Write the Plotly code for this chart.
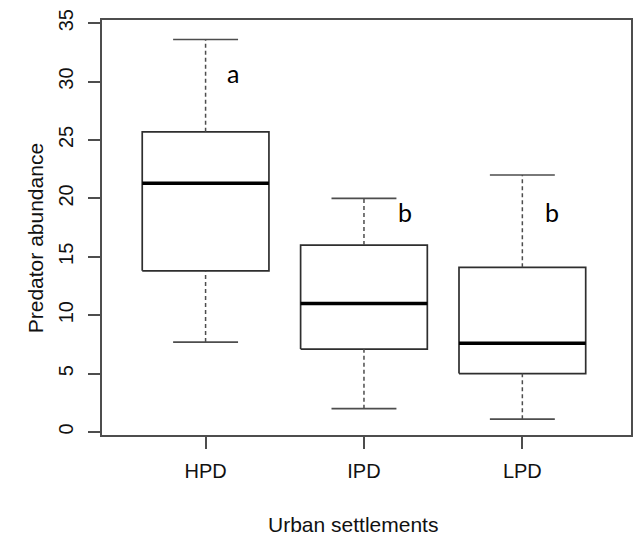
import plotly.graph_objects as go

# ---- data ----
categories = ["HPD", "IPD", "LPD"]
lower_whisker = [7.7, 2.0, 1.1]
q1 = [13.8, 7.1, 5.0]
median = [21.3, 11.0, 7.6]
q3 = [25.7, 16.0, 14.1]
upper_whisker = [33.6, 20.0, 22.0]
letters = ["a", "b", "b"]
y_ticks = [0, 5, 10, 15, 20, 25, 30, 35]

# ---- layout / style settings ----
W, H = 633, 536
ML, MR, MT, MB = 102, 0, 20, 101
half_box = 0.40
half_cap = 0.205
letter_dx = [0.175, 0.26, 0.19]
letter_y = [30.7, 18.8, 18.8]
axis_col = "#4d4d4d"
box_col = "#2e2e2e"
tick_font = dict(family="Liberation Sans, Arial, sans-serif", size=20, color="#111111")

fig = go.Figure()
for i, cat in enumerate(categories):
    # box
    fig.add_trace(go.Scatter(
        x=[i - half_box, i + half_box, i + half_box, i - half_box, i - half_box],
        y=[q1[i], q1[i], q3[i], q3[i], q1[i]],
        mode="lines", line=dict(color=box_col, width=1.7),
        name=cat, showlegend=False, hoverinfo="skip"))
    # whiskers (dashed)
    for a, b in ((q3[i], upper_whisker[i]), (lower_whisker[i], q1[i])):
        fig.add_trace(go.Scatter(
            x=[i, i], y=[a, b], mode="lines",
            line=dict(color=axis_col, width=1.5, dash="4px,3px"),
            showlegend=False, hoverinfo="skip"))
    # caps
    for v in (upper_whisker[i], lower_whisker[i]):
        fig.add_trace(go.Scatter(
            x=[i - half_cap, i + half_cap], y=[v, v], mode="lines",
            line=dict(color=axis_col, width=1.7),
            showlegend=False, hoverinfo="skip"))
    # median
    fig.add_trace(go.Scatter(
        x=[i - half_box, i + half_box], y=[median[i], median[i]], mode="lines",
        line=dict(color="#000000", width=3.6),
        showlegend=False, hovertemplate=f"{cat}<br>median %{{y}}<extra></extra>"))
    # significance letter
    fig.add_annotation(x=i + letter_dx[i], y=letter_y[i], text=letters[i],
                       showarrow=False, xref="x", yref="y",
                       font=dict(family="Lato, Carlito, sans-serif", size=25, color="#000000"))

# axis titles as annotations (pixel-matched)
pw, ph = W - ML - MR, H - MT - MB
fig.add_annotation(text="Urban settlements", xref="paper", yref="paper",
                   x=(353.5 - ML) / pw, y=(H - MB - 524) / ph, showarrow=False,
                   xanchor="center", yanchor="middle",
                   font=dict(family="Liberation Sans, Arial, sans-serif", size=21, color="#111111"))
fig.add_annotation(text="Predator abundance", xref="paper", yref="paper",
                   x=(35 - ML) / pw, y=(H - MB - 238) / ph, showarrow=False, textangle=-90,
                   xanchor="center", yanchor="middle",
                   font=dict(family="Liberation Sans, Arial, sans-serif", size=21, color="#111111"))

fig.update_layout(
    width=W, height=H,
    margin=dict(l=ML, r=MR, t=MT, b=MB, pad=0),
    paper_bgcolor="white", plot_bgcolor="white",
    showlegend=False,
    xaxis=dict(range=[-0.654, 2.686], tickmode="array", tickvals=list(range(len(categories))),
               ticktext=categories, ticks="outside", ticklen=12, tickwidth=1.5, tickcolor=axis_col,
               showgrid=False, zeroline=False, showline=True, linecolor=axis_col, linewidth=1.7,
               mirror=True, tickfont=tick_font, fixedrange=True, ticklabelstandoff=5),
    yaxis=dict(range=[-0.257, 35.27], tickmode="array", tickvals=y_ticks,
               ticks="outside", ticklen=12, tickwidth=1.5, tickcolor=axis_col, tickangle=-90,
               showgrid=False, zeroline=False, showline=True, linecolor=axis_col, linewidth=1.7,
               mirror=True, tickfont=tick_font, fixedrange=True, ticklabelstandoff=7),
)

fig.write_html("out.html", config={"displayModeBar": False},
               post_script="document.body.style.margin='0';document.body.style.overflow='hidden';")
